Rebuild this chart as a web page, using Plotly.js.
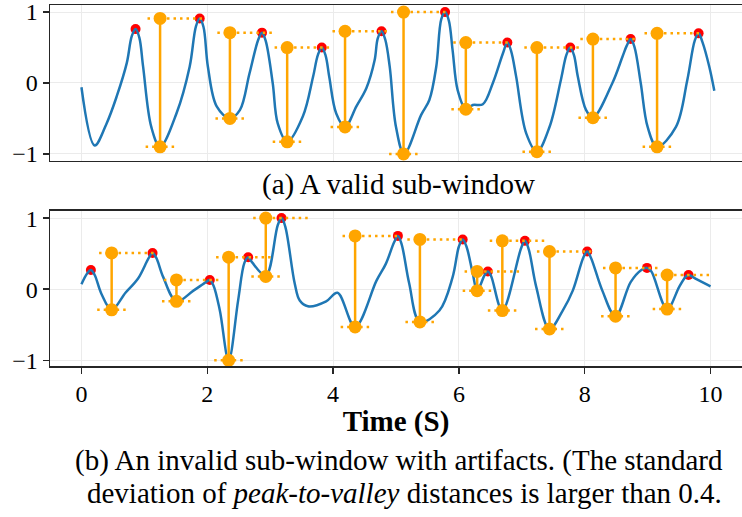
<!DOCTYPE html>
<html>
<head>
<meta charset="utf-8">
<script src="https://cdn.plot.ly/plotly-3.0.1.min.js"></script>
<style>html,body{margin:0;padding:0;background:#fff;}#chart{width:742px;height:517px;}</style>
</head>
<body>
<div id="chart"></div>
<script>
// ---- (a) valid sub-window: signal samples ----
var sigA_x = [0.00,0.21,0.40,0.56,0.72,0.80,0.86,0.92,0.98,1.11,1.25,1.51,1.72,1.82,1.88,1.94,2.01,2.15,2.36,2.52,2.67,2.81,2.87,2.93,3.04,3.12,3.27,3.52,3.68,3.76,3.82,3.88,3.94,4.05,4.19,4.37,4.53,4.66,4.71,4.77,4.83,4.90,5.00,5.13,5.40,5.53,5.64,5.72,5.78,5.84,5.90,5.98,6.11,6.22,6.38,6.54,6.70,6.77,6.83,6.91,7.07,7.24,7.44,7.62,7.71,7.77,7.83,7.89,8.02,8.13,8.44,8.60,8.67,8.73,8.79,8.89,9.00,9.15,9.45,9.63,9.75,9.81,9.87,9.98,10.06];
var sigA_y = [-0.06,-0.88,-0.57,-0.19,0.28,0.66,0.76,0.64,0.23,-0.62,-0.90,-0.43,0.23,0.80,0.91,0.79,0.23,-0.33,-0.50,-0.38,0.13,0.61,0.71,0.59,0.00,-0.57,-0.83,-0.47,0.08,0.40,0.50,0.39,0.08,-0.43,-0.62,-0.33,-0.07,0.32,0.63,0.73,0.61,0.23,-0.62,-1.00,-0.45,-0.24,0.23,0.90,1.00,0.88,0.46,-0.10,-0.37,-0.31,-0.30,0.00,0.42,0.57,0.45,0.09,-0.71,-0.97,-0.62,0.04,0.40,0.50,0.39,0.09,-0.38,-0.49,0.00,0.37,0.53,0.62,0.51,0.00,-0.62,-0.90,-0.62,0.04,0.60,0.70,0.58,0.23,-0.11];
var peaksA_x = [0.86,1.88,2.87,3.82,4.77,5.78,6.77,7.77,8.73,9.81];
var peaksA_y = [0.76,0.91,0.71,0.50,0.73,1.00,0.57,0.50,0.62,0.70];
var valleysA_x = [1.25,2.36,3.27,4.19,5.12,6.11,7.24,8.13,9.15];
var valleysA_y = [-0.90,-0.50,-0.83,-0.62,-1.00,-0.37,-0.97,-0.49,-0.90];

// ---- (b) invalid sub-window: signal samples ----
var sigB_x = [0.00,0.09,0.15,0.21,0.32,0.48,0.70,0.90,1.07,1.13,1.19,1.30,1.51,1.78,1.98,2.04,2.10,2.20,2.34,2.49,2.59,2.65,2.71,2.93,3.12,3.18,3.24,3.39,3.47,3.60,3.89,4.07,4.35,4.69,4.84,4.97,5.03,5.09,5.21,5.38,5.69,5.90,6.00,6.06,6.12,6.22,6.29,6.41,6.46,6.51,6.69,6.99,7.05,7.11,7.23,7.44,7.65,7.81,7.98,8.04,8.10,8.28,8.49,8.73,8.90,8.99,9.06,9.31,9.50,9.60,9.65,9.76,10.00];
var sigB_y = [0.07,0.22,0.27,0.20,-0.07,-0.29,-0.05,0.15,0.44,0.51,0.44,0.17,-0.17,-0.02,0.10,0.13,0.05,-0.30,-1.00,-0.16,0.37,0.45,0.38,0.19,0.90,1.00,0.88,0.08,-0.16,-0.24,-0.17,-0.05,-0.53,0.12,0.36,0.66,0.75,0.63,0.08,-0.46,-0.30,0.17,0.60,0.70,0.60,0.22,-0.02,0.20,0.25,0.19,-0.30,0.58,0.68,0.56,0.03,-0.56,-0.30,-0.02,0.45,0.53,0.44,-0.02,-0.38,0.10,0.27,0.30,0.25,-0.28,0.03,0.17,0.20,0.15,0.04];
var peaksB_x = [0.15,1.13,2.04,2.65,3.18,5.03,6.06,6.46,7.05,8.04,8.99,9.65];
var peaksB_y = [0.27,0.51,0.13,0.45,1.00,0.75,0.70,0.25,0.68,0.53,0.30,0.20];
var valleysB_x = [0.48,1.51,2.34,2.93,4.35,5.38,6.29,6.69,7.44,8.49,9.31];
var valleysB_y = [-0.29,-0.17,-1.00,0.18,-0.53,-0.46,-0.02,-0.30,-0.56,-0.38,-0.28];

var xTicks = [0,2,4,6,8,10];
var yTicks = [-1,0,1];

var BLUE = '#1f77b4', RED = '#ff0000', ORANGE = '#ffa500';

function panelTraces(sx, sy, px, py, vx, vy, xa, ya) {
  var traces = [];
  traces.push({x: px, y: py, xaxis: xa, yaxis: ya, mode: 'markers', type: 'scatter',
    marker: {color: RED, size: 10}, hoverinfo: 'skip'});
  traces.push({x: sx, y: sy, xaxis: xa, yaxis: ya, mode: 'lines', type: 'scatter',
    line: {color: BLUE, width: 2.5, shape: 'spline', smoothing: 1}, hoverinfo: 'skip'});
  // dotted guide lines: each valley paired with the following peak
  var dx = [], dy = [], vlx = [], vly = [];
  for (var i = 0; i < vx.length; i++) {
    var pkY = py[i + 1];
    dx.push(vx[i] - 0.2, vx[i] + 0.72, null);
    dy.push(pkY, pkY, null);
    dx.push(vx[i] - 0.23, vx[i] + 0.23, null);
    dy.push(vy[i], vy[i], null);
    vlx.push(vx[i], vx[i], null);
    vly.push(vy[i], pkY, null);
  }
  traces.push({x: dx, y: dy, xaxis: xa, yaxis: ya, mode: 'lines', type: 'scatter',
    line: {color: ORANGE, width: 2.5, dash: '2.5px,4px'}, hoverinfo: 'skip', connectgaps: false});
  traces.push({x: vlx, y: vly, xaxis: xa, yaxis: ya, mode: 'lines+markers', type: 'scatter',
    line: {color: ORANGE, width: 2.5}, marker: {color: ORANGE, size: 13}, hoverinfo: 'skip', connectgaps: false});
  return traces;
}

var data = panelTraces(sigA_x, sigA_y, peaksA_x, peaksA_y, valleysA_x, valleysA_y, 'x', 'y')
  .concat(panelTraces(sigB_x, sigB_y, peaksB_x, peaksB_y, valleysB_x, valleysB_y, 'x2', 'y2'));

var FONT = 'Liberation Serif, Times New Roman, serif';
var axisCommon = {showgrid: true, gridcolor: '#ebebeb', gridwidth: 1, zeroline: false,
  showline: true, linecolor: '#262626', linewidth: 1.5, tickcolor: '#262626', tickwidth: 1.5,
  ticklabeloverflow: 'allow',
  tickfont: {family: FONT, size: 24, color: '#000'}};

var layout = {
  width: 742, height: 517,
  margin: {l: 50, r: 0, t: 5, b: 151},
  paper_bgcolor: '#fff', plot_bgcolor: '#fff',
  showlegend: false,
  xaxis: Object.assign({}, axisCommon, {domain: [0, 1], anchor: 'y', range: [-0.5, 10.5],
    tickvals: xTicks, showticklabels: false, ticks: '', mirror: true}),
  yaxis: Object.assign({}, axisCommon, {domain: [0.5679, 1], anchor: 'x', range: [-1.1, 1.1],
    tickvals: yTicks, ticks: 'outside', ticklen: 6}),
  xaxis2: Object.assign({}, axisCommon, {domain: [0, 1], anchor: 'y2', range: [-0.5, 10.5],
    tickvals: xTicks, ticks: 'outside', ticklen: 6, mirror: true,
    title: {text: '<b>Time (S)</b>', font: {family: FONT, size: 29, color: '#000'}, standoff: 4}}),
  yaxis2: Object.assign({}, axisCommon, {domain: [0, 0.4294], anchor: 'x2', range: [-1.08, 1.1],
    tickvals: yTicks, ticks: 'outside', ticklen: 6}),
  annotations: [
    {text: '(a) A valid sub-window', xref: 'paper', yref: 'paper', x: 0.5043, y: 0.5014,
      xanchor: 'center', yanchor: 'middle', showarrow: false, font: {family: FONT, size: 29, color: '#000'}},
    {text: '(b) An invalid sub-window with artifacts. (The standard', xref: 'paper', yref: 'paper', x: 0.0332, y: -0.2604,
      xanchor: 'left', yanchor: 'middle', showarrow: false, font: {family: FONT, size: 29, color: '#000'}},
    {text: 'deviation of <i>peak-to-valley</i> distances is larger than 0.4.', xref: 'paper', yref: 'paper', x: 0.0506, y: -0.3518,
      xanchor: 'left', yanchor: 'middle', showarrow: false, font: {family: FONT, size: 29, color: '#000'}}
  ]
};

Plotly.newPlot('chart', data, layout, {displayModeBar: false, staticPlot: true});
</script>
</body>
</html>
